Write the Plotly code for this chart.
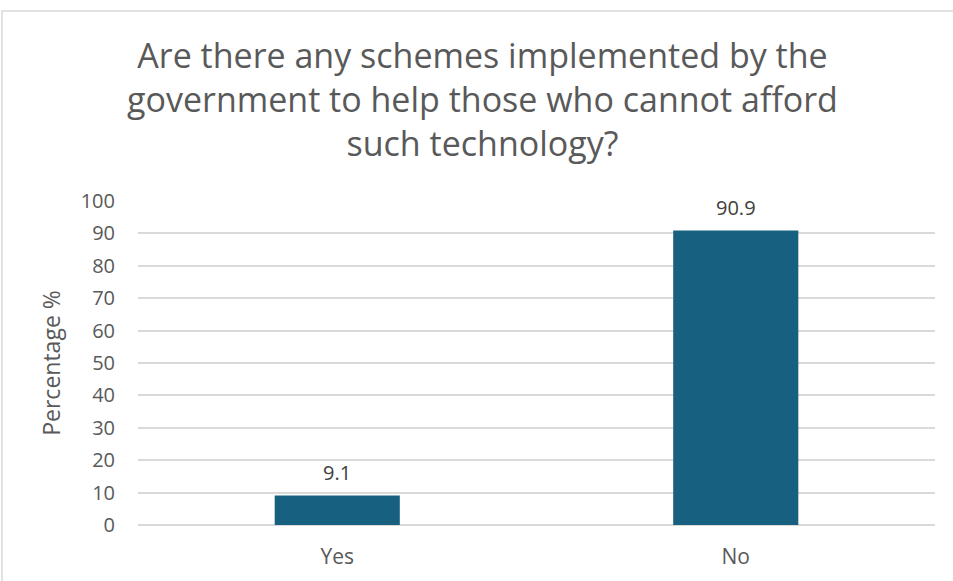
import plotly.graph_objects as go

# Survey responses
categories = ["Yes", "No"]
percentages = [9.1, 90.9]
y_ticks = [0, 10, 20, 30, 40, 50, 60, 70, 80, 90, 100]
title_text = ("Are there any schemes implemented by the<br>"
              "government to help those who cannot afford<br>"
              "such technology?")

BAR_COLOR = "#17607f"
TEXT_COLOR = "#595959"
GRID_COLOR = "#d9d9d9"
FONT = "Open Sans, Liberation Sans, sans-serif"

W, H = 953, 581
ML, MR, MT, MB = 138, 18, 201, 56
plot_w = W - ML - MR
plot_h = H - MT - MB


def px_to_paper_x(px):
    return (px - ML) / plot_w


def px_to_paper_y(py):
    return (H - MB - py) / plot_h


fig = go.Figure(
    go.Bar(
        x=categories,
        y=percentages,
        marker=dict(color=BAR_COLOR, line=dict(width=0)),
        width=0.314,
        hoverinfo="x+y",
    )
)

# Value labels above each bar
for cat, val in zip(categories, percentages):
    fig.add_annotation(
        x=cat, y=val, text=f"{val}", showarrow=False,
        yanchor="middle", yshift=23,
        font=dict(size=20, color="#404040", family=FONT),
    )

# Chart title, three centred lines
fig.add_annotation(
    xref="paper", yref="paper",
    x=px_to_paper_x(482), y=px_to_paper_y(99),
    xanchor="center", yanchor="middle", align="center",
    text=title_text, showarrow=False,
    font=dict(size=34, color=TEXT_COLOR, family=FONT),
)

# Outer chart border (left and top edges visible)
fig.add_shape(
    type="rect", xref="paper", yref="paper",
    x0=px_to_paper_x(2), x1=px_to_paper_x(W + 10),
    y0=px_to_paper_y(H + 10), y1=px_to_paper_y(11),
    line=dict(color="#d9d9d9", width=1.5), fillcolor="rgba(0,0,0,0)",
    layer="below",
)

fig.update_layout(
    width=W, height=H,
    margin=dict(l=ML, r=MR, t=MT, b=MB, autoexpand=False),
    paper_bgcolor="white", plot_bgcolor="white",
    showlegend=False,
    font=dict(family=FONT, color=TEXT_COLOR),
    xaxis=dict(
        showgrid=False, showline=False, zeroline=False, automargin=False,
        ticks="", ticklabelstandoff=17,
        tickfont=dict(size=21, color=TEXT_COLOR),
    ),
    yaxis=dict(
        range=[0, 100], tickvals=y_ticks, automargin=False,
        showgrid=True, gridcolor=GRID_COLOR, gridwidth=1.5,
        zeroline=True, zerolinecolor=GRID_COLOR, zerolinewidth=1.5,
        showline=False, ticks="", ticklabelstandoff=22,
        tickfont=dict(size=20, color=TEXT_COLOR),
        title=dict(text="Percentage %", font=dict(size=23, color=TEXT_COLOR), standoff=13),
    ),
)

fig.write_html("out.html")
